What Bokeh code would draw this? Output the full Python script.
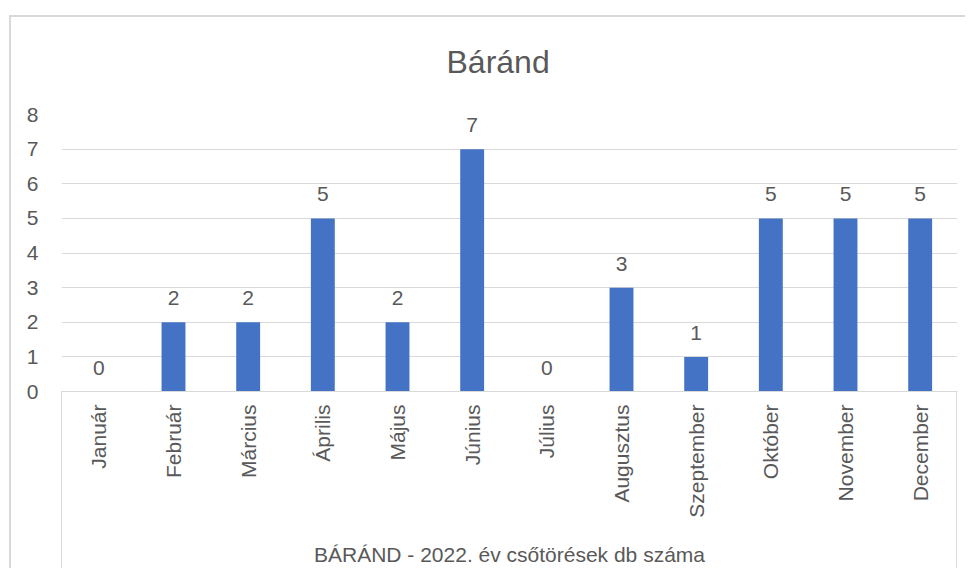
from bokeh.plotting import figure
from bokeh.models import ColumnDataSource, FactorRange, LabelSet, Range1d, InlineStyleSheet
from bokeh.core.properties import value
from bokeh.embed import file_html
from bokeh.resources import INLINE
import math

months = ["Január", "Február", "Március", "Április", "Május", "Június",
          "Július", "Augusztus", "Szeptember", "Október", "November", "December"]
values = [0, 2, 2, 5, 2, 7, 0, 3, 1, 5, 5, 5]
y_ticks = [0, 1, 2, 3, 4, 5, 6, 7, 8]
title_text = "Báránd"
axis_title = "BÁRÁND - 2022. év csőtörések db száma"

FONT = "Liberation Sans"
TXT = "#595959"
GRID = "#d9d9d9"

src = ColumnDataSource(dict(m=months, v=values, lab=[str(v) for v in values]))

p = figure(width=965, height=568, output_backend="svg", toolbar_location=None,
           x_range=FactorRange(*months), y_range=Range1d(0, 8),
           min_border_left=61, min_border_right=8, min_border_top=114, min_border_bottom=177)
p.outline_line_color = None
p.background_fill_color = "white"
p.border_fill_color = "white"

p.title.text = title_text
p.title.align = "left"
p.title.offset = 385
p.title.standoff = 70
p.title.text_font = FONT
p.title.text_font_size = "32px"
p.title.text_font_style = "normal"
p.title.text_color = TXT

p.vbar(x="m", top="v", width=0.32, source=src, fill_color="#4472C4", line_color=None)

p.add_layout(LabelSet(x="m", y="v", text="lab", source=src, y_offset=17,
                      text_align="center", text_baseline="alphabetic",
                      text_font=value(FONT), text_font_size=value("21px"), text_color=TXT))

# y axis
p.yaxis.ticker = y_ticks
p.yaxis.axis_line_color = None
p.yaxis.major_tick_line_color = None
p.yaxis.minor_tick_line_color = None
p.yaxis.major_label_standoff = 17
p.yaxis.major_label_text_font = FONT
p.yaxis.major_label_text_font_size = "21px"
p.yaxis.major_label_text_color = TXT
p.ygrid.grid_line_color = GRID
p.ygrid.ticker = y_ticks
p.xgrid.grid_line_color = None

# x axis
p.xaxis.axis_line_color = GRID
p.xaxis.major_tick_line_color = None
p.xaxis.minor_tick_line_color = None
p.xaxis.major_label_orientation = math.pi / 2
p.xaxis.major_label_standoff = 7
p.xaxis.major_label_text_font = FONT
p.xaxis.major_label_text_font_size = "21px"
p.xaxis.major_label_text_color = TXT
p.xaxis.axis_label = axis_title
p.xaxis.axis_label_standoff = 22
p.xaxis.axis_label_text_font = FONT
p.xaxis.axis_label_text_font_size = "21px"
p.xaxis.axis_label_text_font_style = "normal"
p.xaxis.axis_label_text_color = TXT

# decorative chart borders (outer chart area and category-label box)
p.stylesheets = [InlineStyleSheet(css="""
:host { position: relative; overflow: hidden; }
:host::before { content: ""; position: absolute; left: 61px; top: 391px; right: 8px; bottom: -20px;
  border: 1px solid #d9d9d9; pointer-events: none; box-sizing: border-box; z-index: 10; }
:host::after { content: ""; position: absolute; left: 9px; top: 15px; right: -20px; bottom: -20px;
  border: 2px solid #d9d9d9; pointer-events: none; box-sizing: border-box; z-index: 10; }
""")]

open("out.html", "w").write(file_html(p, INLINE))
